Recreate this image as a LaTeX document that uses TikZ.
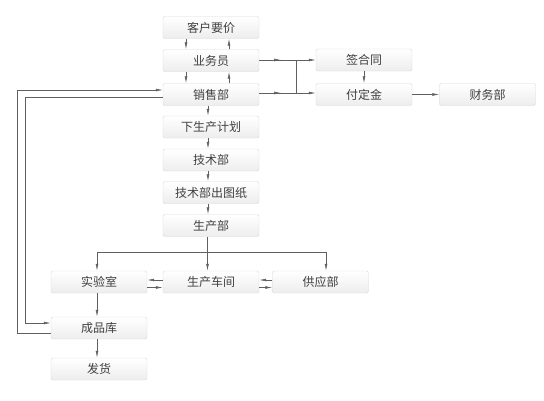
\documentclass[tikz,border=0pt]{standalone}
\usepackage{fontspec}
\setmainfont{Noto Sans CJK SC}
\usetikzlibrary{shapes,arrows.meta}

\tikzset{
  box/.style={draw=gray!30, rounded corners=1.5pt, top color=white, bottom color=gray!14,
    minimum width=96pt, minimum height=22pt, inner sep=0pt, text=black!75,
    font=\fontsize{12}{14}\selectfont},
  line/.style={draw=gray!75!black, line width=0.6pt},
  arr/.style={line, -{Latex[length=7pt,width=2.8pt]}}
}

\begin{document}
\begin{tikzpicture}[x=1pt,y=-1pt]
    \useasboundingbox (0,0) rectangle (544,400);
    \pgfmathsetmacro{\cx}{211}
    \pgfmathsetmacro{\lx}{99}
    \pgfmathsetmacro{\rx}{364}
    % Draw the boxes
    \node [box] (kehu) at (\cx,27.5) {客户要价};
    \node [box] (yewu) at (\cx,60.5) {业务员};
    \node [box] (xiaoshou) at (\cx,94.5) {销售部};
    \node [box] (jihua) at (\cx,127) {下生产计划};
    \node [box] (jishu) at (\cx,160) {技术部};
    \node [box] (tuzhi) at (\cx,192.5) {技术部出图纸};
    \node [box] (shengchan) at (\cx,225.5) {生产部};
    \node [box] (shiyan) at (\lx,282) {实验室};
    \node [box] (chejian) at (\cx,282) {生产车间};
    \node [box] (gongying) at (320.5,282) {供应部};
    \node [box] (chengpin) at (\lx,328) {成品库};
    \node [box] (fahuo) at (\lx,369) {发货};
    \node [box] (hetong) at (\rx,60) {签合同};
    \node [box] (dingjin) at (\rx,94.5) {付定金};
    \node [box] (caiwu) at (487.5,94.5) {财务部};

    % Draw the turning points
    \coordinate (jt) at (296,60);
    \coordinate (jd) at (296,93);
    \coordinate (bl) at (97,252);
    \coordinate (bm) at (207.5,252);
    \coordinate (br) at (326,252);
    \coordinate (lo1) at (17,333);
    \coordinate (lo2) at (17,90);
    \coordinate (li1) at (25,97);
    \coordinate (li2) at (25,323);

    % Draw the top links
    \draw [arr] ([xshift=-25pt]kehu.south) -- ([xshift=-25pt]yewu.north);
    \draw [arr] ([xshift=18pt]yewu.north) -- ([xshift=18pt]kehu.south);
    \draw [arr] ([xshift=-25pt]yewu.south) -- ([xshift=-25pt]xiaoshou.north);
    \draw [arr] ([xshift=18pt]xiaoshou.north) -- ([xshift=18pt]yewu.south);

    % Draw the contract side
    \draw [line] (yewu.east |- jt) -- (jt) -- (jd);
    \draw [line] (xiaoshou.east |- jd) -- (jd);
    \draw [arr] (yewu.east |- jt) -- ++(22,0);
    \draw [arr] (xiaoshou.east |- jd) -- ++(22,0);
    \draw [arr] (jt) -- (hetong.west |- jt);
    \draw [arr] (jd) -- (dingjin.west |- jd);
    \draw [arr] (hetong) -- (dingjin);
    \draw [arr] (dingjin) -- (caiwu);

    % Draw the production chain
    \foreach \a/\b in {xiaoshou/jihua, jihua/jishu, jishu/tuzhi, tuzhi/shengchan}
        \draw [arr] ([xshift=-3pt]\a.south) -- ([xshift=-3pt]\b.north);
    \draw [line] (shengchan.south -| bm) -- (bm);
    \draw [line] (bl) -- (br);
    \draw [arr] (bl) -- (bl |- shiyan.north);
    \draw [arr] (bm) -- (bm |- chejian.north);
    \draw [arr] (br) -- (br |- gongying.north);
    \draw [arr] ([yshift=2pt]chejian.west) -- ([yshift=2pt]shiyan.east);
    \draw [arr] ([yshift=-5.5pt]shiyan.east) -- ([yshift=-5.5pt]chejian.west);
    \draw [arr] ([yshift=2pt]gongying.west) -- ([yshift=2pt]chejian.east);
    \draw [arr] ([yshift=-5.5pt]chejian.east) -- ([yshift=-5.5pt]gongying.west);
    \draw [arr] (bl |- shiyan.south) -- (bl |- chengpin.north);
    \draw [arr] (bl |- chengpin.south) -- (bl |- fahuo.north);

    % Draw the loops back to sales
    \draw [arr] (chengpin.west |- lo1) -- (lo1) -- (lo2) -- (xiaoshou.west |- lo2);
    \draw [arr] (xiaoshou.west |- li1) -- (li1) -- (li2) -- (chengpin.west |- li2);

\end{tikzpicture}
\end{document}
